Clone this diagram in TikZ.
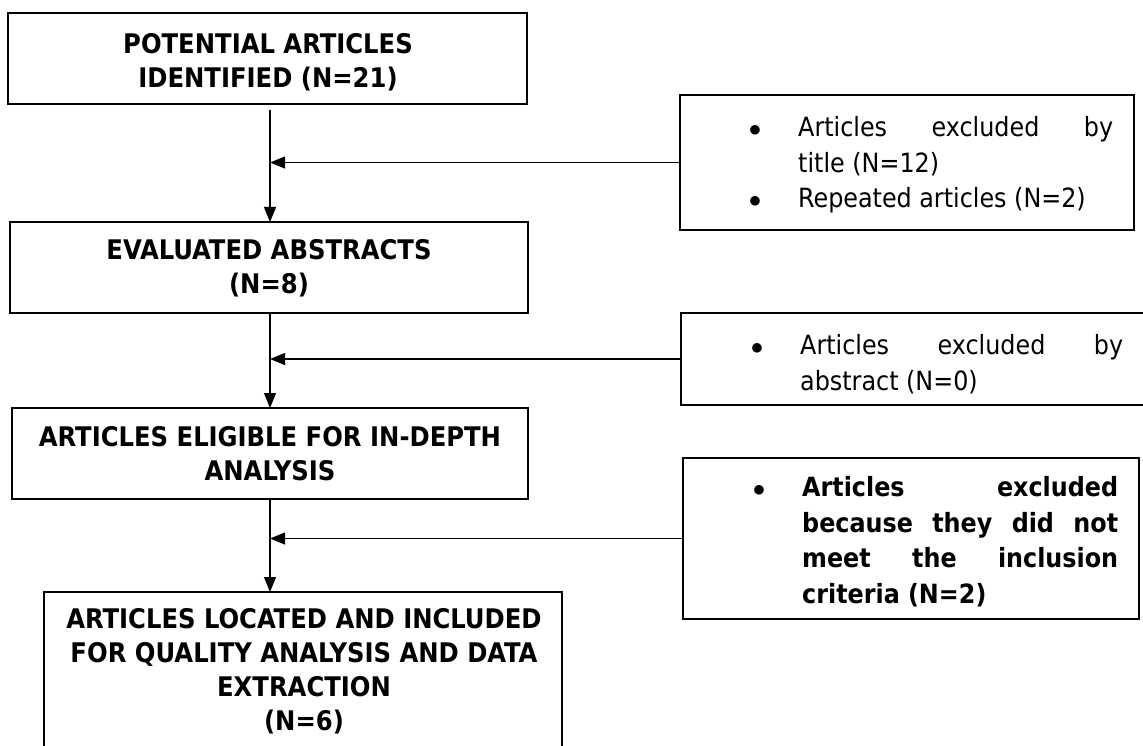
\documentclass[tikz,border=0pt]{standalone}
\usepackage{fontspec}
\setmainfont{DejaVu Sans Condensed}
\usetikzlibrary{arrows.meta,calc}
\newcommand{\bul}{\llap{\makebox[86pt]{$\bullet$}}}
\begin{document}
\begin{tikzpicture}[x=1pt,y=-1pt,
  mainbox/.style={draw, line width=2.4pt, inner sep=0pt, outer sep=0pt, anchor=north west},
  headtext/.style={align=center, font=\bfseries\fontsize{27}{34}\selectfont, inner sep=0pt},
  sidetext/.style={align=left, font=\fontsize{26.5}{35.5}\selectfont, inner sep=0pt, anchor=north west},
  flow/.style={line width=1.2pt, -{Triangle[length=15pt,width=12pt]}}]
\clip (0,0) rectangle (1143,746);
\fill[white] (0,0) rectangle (1143,746);
% main boxes
\node[mainbox, minimum width=519pt, minimum height=91pt] (b1) at (8,13) {};
\node[mainbox, minimum width=518pt, minimum height=91pt] (b2) at (10,222) {};
\node[mainbox, minimum width=516pt, minimum height=91pt] (b3) at (12,408) {};
\node[mainbox, minimum width=518pt, minimum height=185pt] (b4) at (44,592) {};
% side boxes
\node[mainbox, minimum width=454pt, minimum height=135pt] (r1) at (680,95) {};
\node[mainbox, minimum width=480pt, minimum height=92pt] (r2) at (681,313) {};
\node[mainbox, minimum width=456pt, minimum height=161pt] (r3) at (683,458) {};
% main texts
\node[headtext] (t1) at (268,62) {POTENTIAL ARTICLES\\IDENTIFIED (N=21)};
\node[headtext] (t2) at (269,268) {EVALUATED ABSTRACTS\\(N=8)};
\node[headtext] (t3) at (270,453.5) {ARTICLES ELIGIBLE FOR IN-DEPTH\\ANALYSIS};
\node[headtext] (t4) at (304,671) {ARTICLES LOCATED AND INCLUDED\\FOR QUALITY ANALYSIS AND DATA\\EXTRACTION\\(N=6)};
% side texts
\node[sidetext] (s1) at (798,116.6) {\hbox to 315pt{\bul Articles\hfill excluded\hfill by}\\\mbox{title (N=12)}\\\mbox{\bul Repeated articles (N=2)}};
\node[sidetext] (s2) at (800,334.6) {\hbox to 323pt{\bul Articles\hfill excluded\hfill by}\\\mbox{abstract (N=0)}};
\node[sidetext, font=\bfseries\fontsize{26.5}{35.5}\selectfont] (s3) at (802,476.6) {\hbox to 316pt{\bul Articles\hfill excluded}\\\hbox to 316pt{because\hfill they\hfill did\hfill not}\\\hbox to 316pt{meet\hfill the\hfill inclusion}\\\mbox{criteria (N=2)}};
% connectors
\coordinate (ax) at (270,0);
\draw[flow] ($(b1.south -| ax)+(0,6)$) -- (b2.north -| ax);
\draw[flow] (b2.south -| ax) -- (b3.north -| ax);
\draw[flow] (b3.south -| ax) -- (b4.north -| ax);
\draw[flow] (r1.west) -- (r1.west -| ax);
\draw[flow] (r2.west) -- (r2.west -| ax);
\draw[flow] (r3.west) -- (r3.west -| ax);
\end{tikzpicture}
\end{document}
